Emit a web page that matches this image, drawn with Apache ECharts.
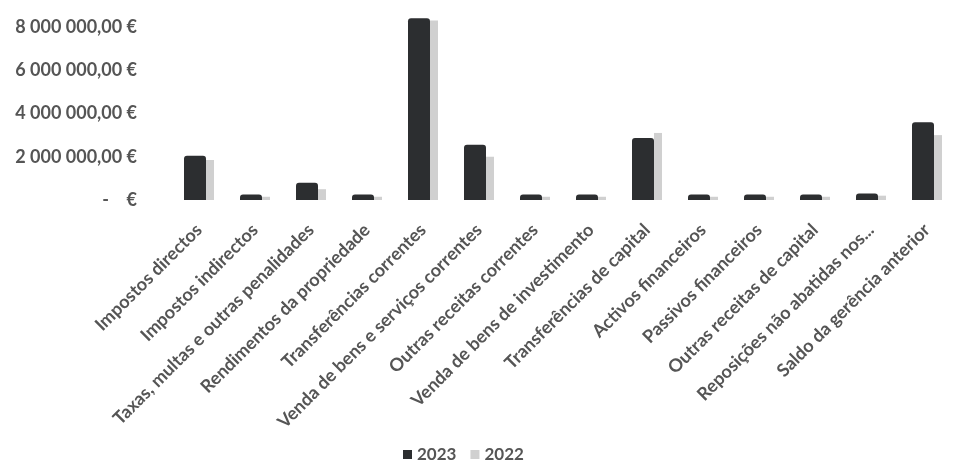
<!DOCTYPE html>
<html><head><meta charset="utf-8">
<script src="https://cdn.jsdelivr.net/npm/echarts@6/dist/echarts.min.js"></script>
<style>html,body{margin:0;padding:0;background:#fff}#c{width:955px;height:462px}</style>
</head><body><div id="c"></div>
<script>
const categories = ["Impostos directos","Impostos indirectos","Taxas, multas e outras penalidades","Rendimentos da propriedade","Transferências correntes","Venda de bens e serviços correntes","Outras receitas correntes","Venda de bens de investimento","Transferências de capital","Activos financeiros","Passivos financeiros","Outras receitas de capital","Reposições não abatidas nos...","Saldo da gerência anterior"];
const values2023 = [2050000,250000,800000,250000,8400000,2550000,250000,250000,2870000,250000,250000,250000,300000,3600000];
const values2022 = [1850000,150000,500000,150000,8300000,2000000,150000,150000,3100000,150000,150000,150000,200000,3000000];
const yTicks = [0,2000000,4000000,6000000,8000000];

function fmt(v){
  if(yTicks.indexOf(v)<0) return '';
  if(v===0) return '-    €';
  const s = Math.round(v).toString().replace(/\B(?=(\d{3})+(?!\d))/g,' ');
  return s + ',00 €';
}
const FONT = 'Lato';
const COL = '#555555';
const chart = echarts.init(document.getElementById('c'));
chart.setOption({
  backgroundColor:'#fff',
  animation:false,
  legend:{top:441,left:398,itemWidth:9,itemHeight:9,itemGap:14,icon:'rect',
    textStyle:{fontFamily:FONT,fontSize:17,color:COL,fontWeight:'bold'},
    data:['2023','2022']},
  grid:{left:171,right:-21,top:14,bottom:262,containLabel:false},
  xAxis:{type:'category',data:categories,axisLine:{show:false},axisTick:{show:false},
      axisLabel:{interval:0,rotate:45,margin:27,fontFamily:FONT,fontSize:18,color:COL,fontWeight:'bold'}},
  yAxis:{type:'value',min:0,max:8600000,interval:2000000,
      axisLine:{show:false},axisTick:{show:false},splitLine:{show:false},
      axisLabel:{showMaxLabel:false,margin:34,fontFamily:FONT,fontSize:18,color:COL,fontWeight:'bold',formatter:fmt}},
  series:[
    {name:'2023',type:'bar',data:values2023,barWidth:22,barGap:'0%',itemStyle:{color:'#2c2e30',borderRadius:[3,3,0,0]}},
    {name:'2022',type:'bar',data:values2022,barWidth:8,itemStyle:{color:'#d0d0d0'}}
  ]
});
</script></body></html>
